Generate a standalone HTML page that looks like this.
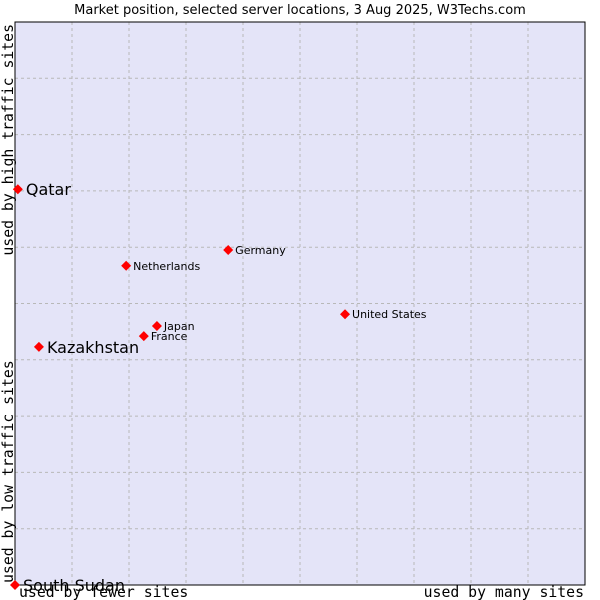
<!DOCTYPE html>
<html><head><meta charset="utf-8"><style>
body{margin:0;background:#fff;width:600px;height:600px;overflow:hidden}
svg{display:block}
</style></head><body>
<svg id="chart" width="600" height="600" xmlns="http://www.w3.org/2000/svg">
<text x="300" y="14" text-anchor="middle" font-family="DejaVu Sans, sans-serif" font-size="13" fill="#000">Market position, selected server locations, 3 Aug 2025, W3Techs.com</text>
<rect x="15" y="22" width="570" height="563" fill="#e4e4f8"/>
<g id="grid"></g>
<rect x="15" y="22" width="570" height="563" fill="none" stroke="#000" stroke-width="1"/>
<text x="19" y="597" font-family="DejaVu Sans Mono, Liberation Mono, monospace" font-size="14.8">used by fewer sites</text>
<text x="584" y="597" text-anchor="end" font-family="DejaVu Sans Mono, Liberation Mono, monospace" font-size="14.8">used by many sites</text>
<text transform="translate(13,583) rotate(-90)" font-family="DejaVu Sans Mono, Liberation Mono, monospace" font-size="14.8">used by low traffic sites</text>
<text transform="translate(13,24) rotate(-90)" text-anchor="end" font-family="DejaVu Sans Mono, Liberation Mono, monospace" font-size="14.8">used by high traffic sites</text>
<g id="points"></g>
</svg>
<script>
const names = ["Qatar","Kazakhstan","South Sudan","Netherlands","Germany","United States","Japan","France"];
const xValues = [0.5,4.2,0,19.5,37.4,57.9,24.9,22.6];
const yValues = [70.3,42.3,0,56.7,59.5,48.1,46.0,44.2];
const bigLabel = [true,true,true,false,false,false,false,false];
const gridTicks = [10,20,30,40,50,60,70,80,90];
const NS="http://www.w3.org/2000/svg";
const X0=15,X1=585,Y0=22,Y1=585;
function sx(v){return X0+(X1-X0)*v/100;}
function sy(v){return Y1-(Y1-Y0)*v/100;}
const grid=document.getElementById('grid');
gridTicks.forEach(t=>{
  let l=document.createElementNS(NS,'line');
  l.setAttribute('x1',sx(t));l.setAttribute('x2',sx(t));l.setAttribute('y1',Y0);l.setAttribute('y2',Y1);
  l.setAttribute('stroke','#b8b8b8');l.setAttribute('stroke-dasharray','3,3');
  
  
  grid.appendChild(l);
  let h=document.createElementNS(NS,'line');
  h.setAttribute('x1',X0);h.setAttribute('x2',X1);h.setAttribute('y1',sy(t));h.setAttribute('y2',sy(t));
  h.setAttribute('stroke','#b8b8b8');h.setAttribute('stroke-dasharray','3,3');
  
  
  grid.appendChild(h);
});
const pts=document.getElementById('points');
names.forEach((n,i)=>{
  const x=sx(xValues[i]),y=sy(yValues[i]);
  let d=document.createElementNS(NS,'path');
  d.setAttribute('d',`M${x-5} ${y}L${x} ${y-5}L${x+5} ${y}L${x} ${y+5}Z`);
  d.setAttribute('fill','#f00');
  
  
  pts.appendChild(d);
  let t=document.createElementNS(NS,'text');
  t.setAttribute('x',x+(bigLabel[i]?8:7));
  t.setAttribute('y',y+(bigLabel[i]?6:4));
  t.setAttribute('font-family','DejaVu Sans, sans-serif');
  t.setAttribute('font-size',bigLabel[i]?'16':'11');
  t.textContent=n;
  
  
  pts.appendChild(t);
});
</script>
</body></html>
